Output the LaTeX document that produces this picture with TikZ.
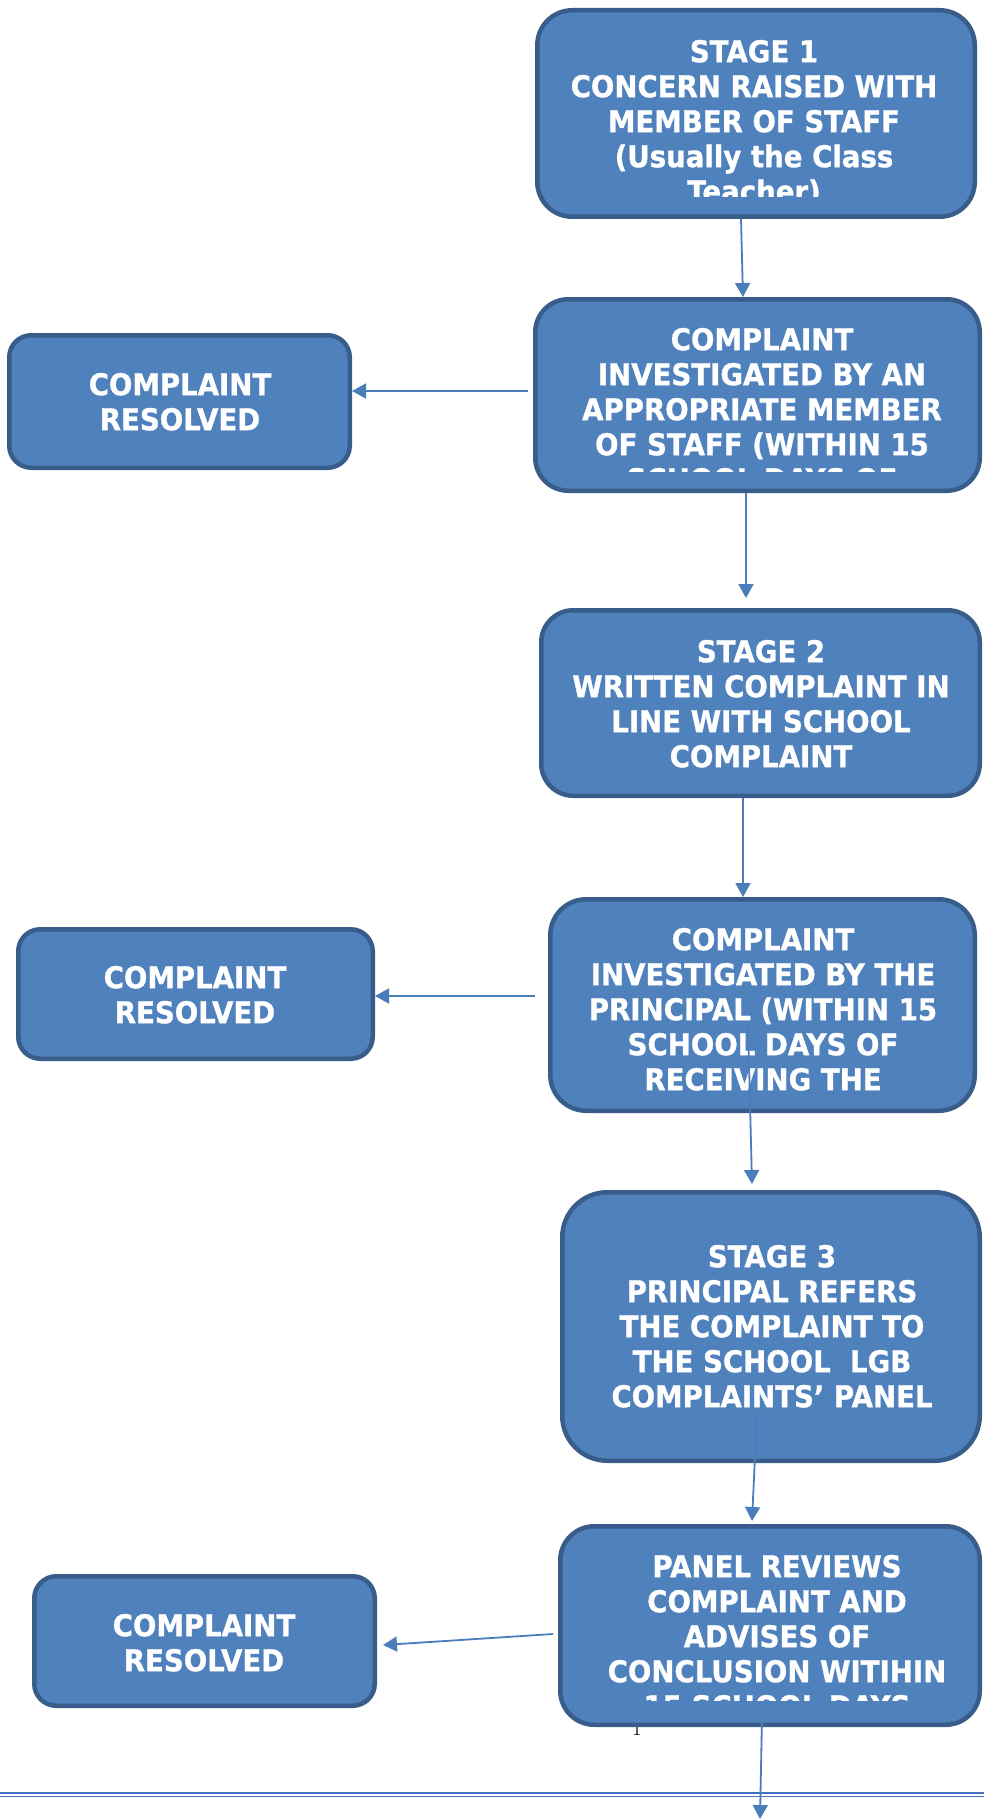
\documentclass[tikz,border=0pt]{standalone}
\usepackage{fontspec}
\newfontfamily\boxfont{DejaVu Sans}[FakeStretch=0.92,BoldFeatures={FakeBold=1}]
\usetikzlibrary{arrows.meta,calc}
\definecolor{boxfill}{HTML}{4F81BD}
\definecolor{boxline}{HTML}{385D8A}
\definecolor{arrcol}{HTML}{4A7EBB}
\definecolor{rulecol}{HTML}{4472C4}
\tikzset{
 bigbox/.style={draw=boxline, fill=boxfill, line width=4.5pt, rectangle, inner sep=0pt},
 boxtext/.style={text=white, font=\boxfont\bfseries\fontsize{30}{35}\selectfont, align=center, inner sep=0pt, anchor=north},
 arr/.style={draw=arrcol, line width=1.8pt, -{Triangle[length=14pt,width=15pt]}},
 rulestyle/.style={draw=rulecol, line width=1.4pt},
}
\begin{document}
\begin{tikzpicture}[x=1pt,y=-1pt]
\useasboundingbox (0,0) rectangle (984,1819);

% page number (mostly hidden behind the last box)
\node[font=\fontsize{22}{22}\selectfont, anchor=base, inner sep=0pt] (pg) at (637,1735) {1};

% main boxes
\node[bigbox, rounded corners=35pt, minimum width=437.5pt, minimum height=206.5pt] (b1) at (756,113.5) {};
\node[bigbox, rounded corners=33pt, minimum width=444.5pt, minimum height=191.5pt] (b2) at (757.5,395) {};
\node[bigbox, rounded corners=32pt, minimum width=438.5pt, minimum height=185.5pt] (b3) at (760.5,703) {};
\node[bigbox, rounded corners=36pt, minimum width=424.5pt, minimum height=211.5pt] (b4) at (762.5,1005) {};
\node[bigbox, rounded corners=45pt, minimum width=417.5pt, minimum height=268.5pt] (b5) at (771,1326.5) {};
\node[bigbox, rounded corners=34pt, minimum width=419.5pt, minimum height=198.5pt] (b6) at (770,1625.5) {};

% resolved boxes
\node[bigbox, rounded corners=22pt, minimum width=340.5pt, minimum height=132.5pt] (r1) at (179.5,401.5) {};
\node[bigbox, rounded corners=22pt, minimum width=354.5pt, minimum height=129.5pt] (r2) at (195.5,994) {};
\node[bigbox, rounded corners=22pt, minimum width=340.5pt, minimum height=129.5pt] (r3) at (204.5,1641) {};

% texts
\begin{scope}
\clip (535,8) rectangle (977,197);
\node[boxtext] (t1) at (754,38) {\rule{0pt}{24pt}STAGE 1\\CONCERN RAISED WITH\\MEMBER OF STAFF\\(Usually the Class\\Teacher)};
\end{scope}
\begin{scope}
\clip (533,297) rectangle (982,471);
\node[boxtext] (t2) at (762,326) {\rule{0pt}{24pt}COMPLAINT\\INVESTIGATED BY AN\\APPROPRIATE MEMBER\\OF STAFF (WITHIN 15\\SCHOOL DAYS OF};
\end{scope}
\node[boxtext] (t3) at (761,638) {\rule{0pt}{24pt}STAGE 2\\WRITTEN COMPLAINT IN\\LINE WITH SCHOOL\\COMPLAINT};
\node[boxtext] (t4) at (763,926) {\rule{0pt}{24pt}COMPLAINT\\INVESTIGATED BY THE\\PRINCIPAL (WITHIN 15\\SCHOOL DAYS OF\\RECEIVING THE};
\node[boxtext] (t5) at (772,1243) {\rule{0pt}{24pt}STAGE 3\\PRINCIPAL REFERS\\THE COMPLAINT TO\\THE SCHOOL\ \ LGB\\COMPLAINTS’ PANEL};
\begin{scope}
\clip (558,1524) rectangle (982,1700);
\node[boxtext] (t6) at (777,1553) {\rule{0pt}{24pt}PANEL REVIEWS\\COMPLAINT AND\\ADVISES OF\\CONCLUSION WITIHIN\\15 SCHOOL DAYS};
\end{scope}
\node[boxtext] (rt1) at (180,371) {\rule{0pt}{24pt}COMPLAINT\\RESOLVED};
\node[boxtext] (rt2) at (195,964) {\rule{0pt}{24pt}COMPLAINT\\RESOLVED};
\node[boxtext] (rt3) at (204,1612) {\rule{0pt}{24pt}COMPLAINT\\RESOLVED};

% connectors
\draw[arr] ([xshift=-15pt]b1.south) -- ([xshift=-14.5pt]b2.north);
\draw[arr] ([xshift=-5pt,yshift=4pt]b2.west) -- ([yshift=10.5pt]r1.east);
\draw[arr] ([xshift=-11.5pt]b2.south) -- ([xshift=-14.5pt,yshift=10pt]b3.north);
\draw[arr] ([xshift=-17.5pt]b3.south) -- ([xshift=-19.5pt]b4.north);
\draw[arr] ([xshift=-13pt,yshift=9pt]b4.west) -- ([yshift=-2pt]r2.east);
\draw[arr] ([xshift=-14.5pt,yshift=-17pt]b4.center) -- ([xshift=-19pt,yshift=6pt]b5.north);
\draw[arr] ([xshift=-14pt,yshift=-86.5pt]b5.center) -- ([xshift=-18pt,yshift=3pt]b6.north);
\draw[arr] ([xshift=-5pt,yshift=-8.5pt]b6.west) -- ([xshift=6pt,yshift=-4pt]r3.east);

% page rule
\draw[rulestyle] (0,1793) -- (984,1793);
\draw[rulestyle] (0,1796.5) -- (984,1796.5);

\coordinate (pgend) at (760,1819);
\draw[arr] ([xshift=-8pt,yshift=10pt]b6.south) -- (pgend);
\end{tikzpicture}
\end{document}
